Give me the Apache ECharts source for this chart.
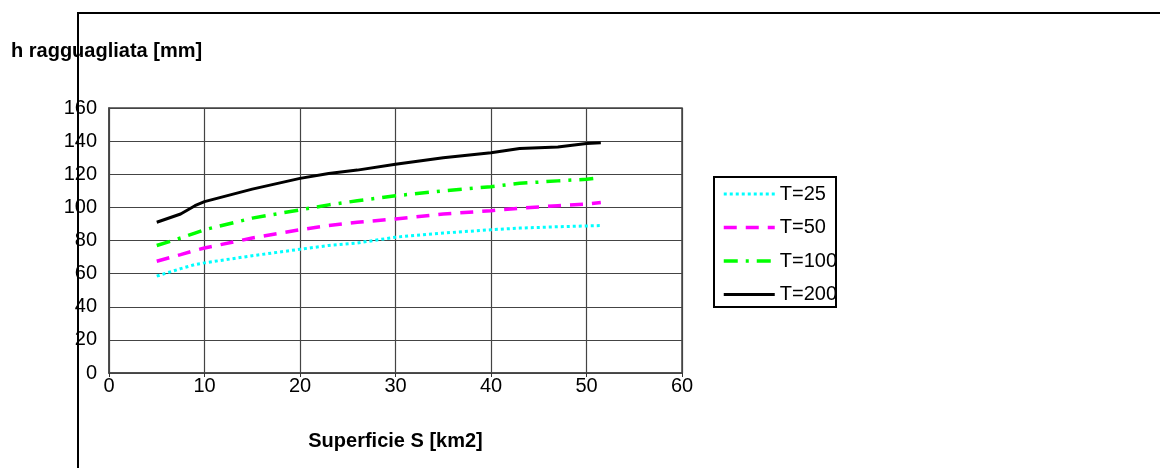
<!DOCTYPE html>
<html>
<head>
<meta charset="utf-8">
<script src="https://cdn.jsdelivr.net/npm/echarts@6/dist/echarts.min.js"></script>
<style>
html,body{margin:0;padding:0;background:#fff;}
#c{width:1160px;height:468px;}
</style>
</head>
<body>
<div id="c"></div>
<script>
const areas = [5, 7.5, 9, 10, 15, 20, 23, 26, 30, 35, 40, 43, 47, 50, 51.5];
const T25  = [58.5, 63, 65.5, 66.5, 70.8, 74.7, 77, 78.5, 82, 84.5, 86.5, 87.5, 88.3, 88.8, 89];
const T50  = [67.5, 71.5, 74, 75.5, 81.5, 86.5, 89, 91, 93, 96, 98, 99.5, 101, 102, 103];
const T100 = [77, 81.5, 84.5, 86.5, 93.5, 98.5, 101.5, 104, 107, 110, 112.5, 114.5, 116, 117, 118];
const T200 = [91, 96, 101, 103.5, 111, 117.5, 120.5, 122.5, 126, 130, 133, 135.5, 136.5, 138.5, 139];
const seriesNames = ['T=25', 'T=50', 'T=100', 'T=200'];
const yTitle = 'h ragguagliata [mm]';
const xTitle = 'Superficie S [km2]';

const FONT = '"Liberation Sans", Arial, sans-serif';
const pairs = arr => areas.map((x, i) => [x, arr[i]]);

const styles = [
  {color: '#00FFFF', width: 3, type: [3, 3]},
  {color: '#FF00FF', width: 3.5, type: [13, 9]},
  {color: '#00FF00', width: 3.5, type: [14, 8, 3, 8]},
  {color: '#000000', width: 3, type: 'solid'}
];
const datas = [T25, T50, T100, T200];

const chart = echarts.init(document.getElementById('c'), null, {renderer: 'canvas'});
chart.setOption({
  animation: false,
  backgroundColor: '#fff',
  title: {
    text: yTitle, left: 6, top: 36,
    textStyle: {fontFamily: FONT, fontSize: 20, fontWeight: 'bold', color: '#000'}
  },
  graphic: [
    {type: 'rect', z: 0, shape: {x: 78, y: 13, width: 1200, height: 600},
     style: {fill: 'none', stroke: '#000', lineWidth: 2}},
    {type: 'rect', z: 1, shape: {x: 714, y: 177, width: 122, height: 130},
     style: {fill: '#fff', stroke: '#000', lineWidth: 2}}
  ],
  grid: {left: 109, right: 478, top: 108, bottom: 95, show: true, borderColor: '#444', borderWidth: 1.5, backgroundColor: 'transparent'},
  xAxis: {
    type: 'value', min: 0, max: 60, interval: 10,
    name: xTitle, nameLocation: 'middle', nameGap: 58,
    nameTextStyle: {fontFamily: FONT, fontSize: 20, fontWeight: 'bold', color: '#000'},
    axisLine: {show: true, lineStyle: {color: '#444', width: 1.5}},
    axisTick: {show: true, length: 4, lineStyle: {color: '#333'}},
    axisLabel: {fontFamily: FONT, fontSize: 20, color: '#000', margin: 3},
    splitLine: {show: true, lineStyle: {color: '#444', width: 1.2}}
  },
  yAxis: {
    type: 'value', min: 0, max: 160, interval: 20,
    axisLine: {show: true, lineStyle: {color: '#444', width: 1.5}},
    axisTick: {show: false},
    axisLabel: {fontFamily: FONT, fontSize: 20, color: '#000', margin: 12},
    splitLine: {show: true, lineStyle: {color: '#444', width: 1.2}}
  },
  legend: {
    orient: 'vertical', left: 722, top: 184, z: 5,
    itemWidth: 51, itemHeight: 20, itemGap: 13.5,
    padding: 0,
    itemStyle: {opacity: 0},
    textStyle: {fontFamily: FONT, fontSize: 20, color: '#000', lineHeight: 20},
    data: seriesNames.map((n, i) => ({
      name: n,
      lineStyle: {width: styles[i].width, type: styles[i].type, color: styles[i].color}
    }))
  },
  series: seriesNames.map((n, i) => ({
    name: n, type: 'line', data: pairs(datas[i]), symbol: 'none', smooth: false,
    color: styles[i].color,
    lineStyle: {color: styles[i].color, width: styles[i].width, type: styles[i].type}
  }))
});
</script>
</body>
</html>
